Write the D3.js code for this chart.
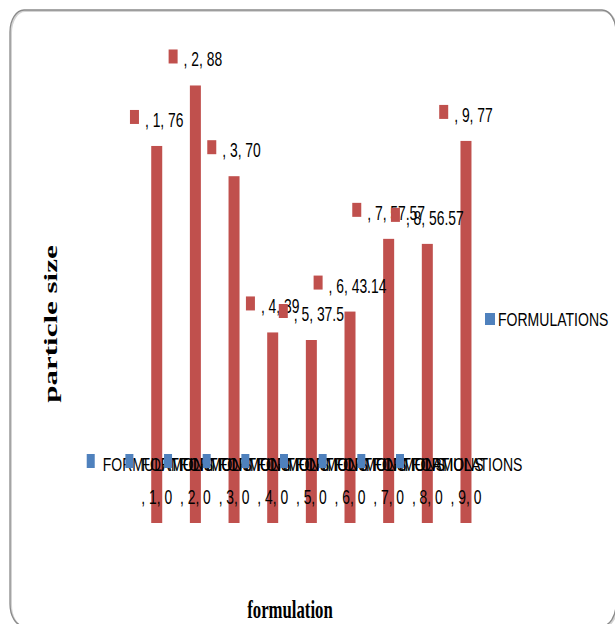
<!DOCTYPE html>
<html>
<head>
<meta charset="utf-8">
<script src="https://cdn.jsdelivr.net/npm/d3@7"></script>
<style>
  body { margin: 0; background: #fff; }
  svg { display: block; }
</style>
</head>
<body>
<svg width="615" height="624"></svg>
<script>
// chart data
var categories = [1, 2, 3, 4, 5, 6, 7, 8, 9];
var particleSize = [76, 88, 70, 39, 37.5, 43.14, 57.57, 56.57, 77];
var seriesName = "FORMULATIONS";
var xTitle = "formulation";
var yTitle = "particle size";

var svg = d3.select("svg"),
    width = +svg.attr("width"),
    height = +svg.attr("height");

var red = "#C0504D", blue = "#4F81BD";
var sans = "'Liberation Sans', Arial, sans-serif";
var serif = "'Liberation Serif', 'Times New Roman', serif";
var squeeze = 0.66;   // the original picture is squashed sideways
var plotBottom = 523;

// frame
svg.append("rect")
    .attr("x", 11).attr("y", 11)
    .attr("width", 606).attr("height", 616)
    .attr("rx", 14).attr("ry", 22)
    .style("fill", "none").style("stroke", "#d4d4d4").style("stroke-width", 2);
svg.append("rect")
    .attr("x", 10).attr("y", 10)
    .attr("width", 606).attr("height", 616)
    .attr("rx", 14).attr("ry", 22)
    .style("fill", "none").style("stroke", "#8a8a8a").style("stroke-width", 1.3);

var x = d3.scaleBand()
    .domain(categories)
    .range([137.4, 485.3]);

var y = d3.scaleLinear()
    .domain([0, 100])
    .range([529, 25]);

var data = categories.map(function(c, i) { return {cat: c, value: particleSize[i]}; });
var cx = function(d) { return x(d.cat) + x.bandwidth() / 2; };

// bars
svg.append("g")
  .selectAll("rect")
  .data(data)
  .enter().append("rect")
    .attr("x", function(d) { return cx(d) - 5.5; })
    .attr("y", function(d) { return y(d.value); })
    .attr("width", 11)
    .attr("height", function(d) { return plotBottom - y(d.value); })
    .style("fill", red);

// data labels: marker + ", n, value"
var label = svg.append("g")
  .selectAll("g")
  .data(data)
  .enter().append("g")
    .attr("transform", function(d) { return "translate(" + cx(d) + "," + (y(d.value) - 29) + ")"; });

label.append("text")
    .style("font-family", sans).style("font-size", "21px").style("fill", "#000")
    .text(function(d) { return ", " + d.cat + ", " + d.value; })
    .each(function() {
      var w = this.getComputedTextLength() * squeeze;
      var start = -(9 + 6 + w) / 2;
      d3.select(this).attr("transform", "translate(" + (start + 15) + ",10) scale(" + squeeze + ",1)");
      d3.select(this.parentNode).insert("rect", "text")
          .attr("x", start).attr("y", -7)
          .attr("width", 9).attr("height", 14)
          .style("fill", red);
    });

// overlapping legend entries along the axis (as in the original)
var axisLegend = svg.append("g")
  .selectAll("g")
  .data(data)
  .enter().append("g")
    .attr("transform", function(d) { return "translate(" + (cx(d) - 70) + ",0)"; });
axisLegend.append("rect")
    .attr("x", 0).attr("y", 454)
    .attr("width", 8).attr("height", 14)
    .style("fill", blue);
axisLegend.append("text")
    .attr("transform", "translate(16,471) scale(0.78,1)")
    .style("font-family", sans).style("font-size", "18px").style("fill", "#000")
    .text(seriesName);

// category labels
svg.append("g")
  .selectAll("text")
  .data(data)
  .enter().append("text")
    .attr("transform", function(d) { return "translate(" + cx(d) + ",504) scale(" + squeeze + ",1)"; })
    .attr("text-anchor", "middle")
    .style("font-family", sans).style("font-size", "21px").style("fill", "#000")
    .text(function(d) { return ", " + d.cat + ", 0"; });

// right legend
svg.append("rect")
    .attr("x", 485).attr("y", 313)
    .attr("width", 10).attr("height", 12)
    .style("fill", blue);
svg.append("text")
    .attr("transform", "translate(498,326) scale(0.78,1)")
    .style("font-family", sans).style("font-size", "18px").style("fill", "#000")
    .text(seriesName);

// axis titles
svg.append("text")
    .attr("transform", "translate(57,324) scale(0.58,1) rotate(-90)")
    .attr("text-anchor", "middle")
    .style("font-family", serif).style("font-weight", "bold").style("font-size", "31px")
    .text(yTitle);

svg.append("text")
    .attr("transform", "translate(290,618) scale(0.67,1)")
    .attr("text-anchor", "middle")
    .style("font-family", serif).style("font-weight", "bold").style("font-size", "25px")
    .text(xTitle);
</script>
</body>
</html>
